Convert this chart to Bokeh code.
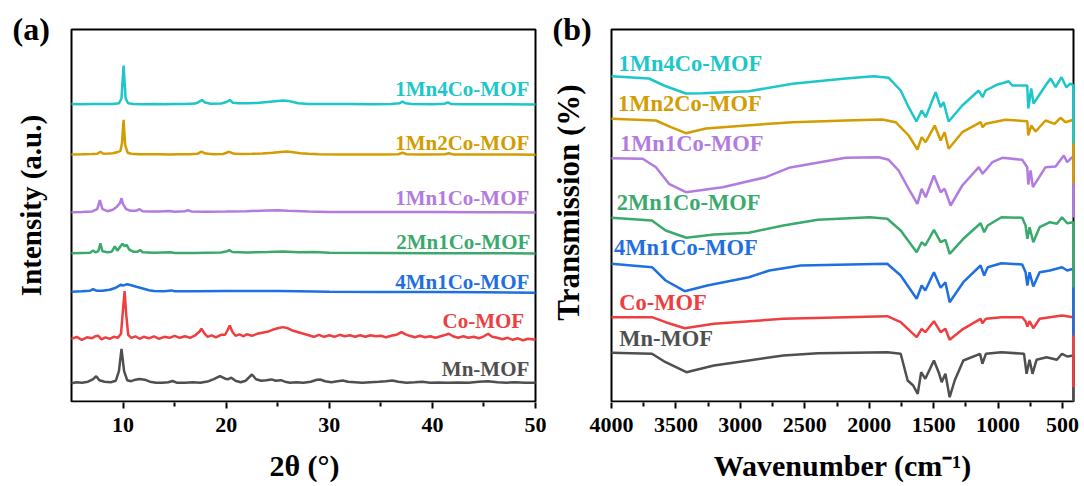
import math
from bokeh.plotting import figure
from bokeh.layouts import row
from bokeh.models import Range1d, FixedTicker, Label
from bokeh.embed import file_html
from bokeh.resources import INLINE

FONT = "Liberation Serif"

# ---------------- data: XRD (panel a) ----------------
xrd_names = ["1Mn4Co-MOF", "1Mn2Co-MOF", "1Mn1Co-MOF", "2Mn1Co-MOF", "4Mn1Co-MOF", "Co-MOF", "Mn-MOF"]
colors = ["#1CC6C9", "#D39C00", "#B27BDF", "#3AAA6C", "#1F6FE0", "#EE3E40", "#4F4F4F"]
xrd_offsets = [297, 246.7, 189.3, 148.3, 109.3, 62.7, 18.3]

xrd_x_1Mn4Co = [5, 6, 7, 8, 9, 9.6, 9.85, 10.05, 10.25, 10.5, 11, 12, 13, 14, 15, 16, 17, 17.35, 17.65, 17.95, 18.5, 19.5, 20.05, 20.35, 20.65, 21.2, 22, 23, 24, 25, 25.5, 26, 26.5, 27, 28, 30, 32, 34, 36, 36.8, 37.1, 37.4, 38, 40, 41.2, 41.5, 41.8, 43, 45, 47, 50]
xrd_y_1Mn4Co = [0.5, 0.3, 0.6, 0.4, 0.6, 1.2, 6, 39, 6, 1.2, 0.6, 0.3, 0.5, 0.3, 0.5, 0.6, 0.9, 2.5, 4.5, 2, 0.8, 1, 2.5, 4.5, 1.8, 1.2, 1.2, 1.5, 2.5, 3.5, 4, 3.6, 2.5, 1.2, 0.6, 0.4, 0.4, 0.2, 0.4, 1.2, 3, 1.2, 0.4, 0.3, 0.8, 2.2, 0.6, 0.3, 0.3, 0.2, 0]

xrd_x_1Mn2Co = [5, 6, 7, 7.5, 7.8, 8.1, 8.6, 9.0, 9.4, 9.75, 9.9, 10.05, 10.2, 10.45, 10.8, 11.5, 12.5, 13.5, 14.5, 15.5, 16.5, 17.2, 17.6, 18.0, 18.8, 19.7, 20.3, 20.8, 21.5, 22.5, 23.5, 24.5, 25.3, 25.9, 26.5, 27.2, 28, 29, 31, 33, 35, 36.7, 37.1, 37.5, 39, 41.2, 41.6, 42, 44, 46, 48, 50]
xrd_y_1Mn2Co = [0.3, 0.5, 0.8, 1, 3, 1, 1.2, 1.5, 2.5, 4, 12, 35, 10, 2, 1, 0.6, 0.5, 0.5, 0.3, 0.5, 0.6, 1, 3.2, 1.2, 0.6, 0.8, 3, 1, 0.8, 1, 1.4, 2, 2.8, 3.2, 2.6, 1.6, 1, 0.5, 0.3, 0.3, 0.2, 0.6, 2, 0.6, 0.3, 0.5, 1.6, 0.4, 0.3, 0.2, 0.2, 0]

xrd_x_1Mn1Co = [5, 6, 7, 7.5, 7.75, 8.0, 8.5, 9, 9.4, 9.7, 9.85, 10.0, 10.3, 10.7, 11.3, 11.6, 11.9, 12.5, 13.5, 14.5, 15, 16, 16.3, 16.6, 18, 20, 22, 24, 25, 26, 28, 30, 35, 40, 45, 50]
xrd_y_1Mn1Co = [0, 0.3, 0.8, 3, 12, 3, 1, 2.5, 5.5, 9, 14, 8, 3, 1.5, 1.5, 3, 1, 0.8, 0.6, 1.2, 0.5, 1, 2, 0.8, 0.5, 0.6, 1, 1.8, 2, 1.5, 0.6, 0.3, 0.2, 0.2, 0, -0.3]

xrd_x_2Mn1Co = [5, 6, 6.8, 7.1, 7.35, 7.6, 7.8, 8.0, 8.5, 8.9, 9.2, 9.45, 9.75, 9.95, 10.15, 10.35, 10.6, 11, 11.4, 11.65, 11.9, 13, 14.6, 15, 17, 18, 19.5, 20.1, 20.3, 20.6, 22, 24, 25.5, 27, 28.5, 30, 35, 40, 45, 50]
xrd_y_2Mn1Co = [0, 0.3, 0.5, 2.7, 0.8, 2, 10, 2, 1, 1.5, 6.7, 2.5, 7, 9.3, 7, 8.3, 3.5, 1.5, 1.5, 3.3, 1, 0.5, 1, 0.3, 0.3, 0.5, 0.8, 2, 3, 1.2, 0.8, 1.2, 1.6, 1, 1.2, 0.4, 0.3, 0, 0, -0.3]

xrd_x_4Mn1Co = [5, 6, 6.8, 7.1, 7.4, 8, 8.7, 9.3, 9.8, 10.0, 10.4, 10.8, 11.3, 12, 12.5, 13, 14, 14.7, 15, 17, 20, 22, 25, 27, 30, 35, 40, 45, 50]
xrd_y_4Mn1Co = [0.5, 1, 1.5, 3, 1.5, 1.5, 2.5, 4.5, 7.5, 6.5, 8, 7, 5.5, 3.5, 2, 1.2, 1, 1.8, 1, 1, 1.3, 1.3, 1.3, 1, 0.5, 0.3, 0.3, 0, -0.5]

xrd_x_Co = [5, 5.5, 6, 6.5, 7, 7.3, 7.6, 7.9, 8.3, 8.7, 9.1, 9.5, 9.8, 10.0, 10.15, 10.3, 10.5, 10.8, 11.2, 11.6, 12, 12.5, 13, 13.5, 14, 14.5, 15, 15.5, 16, 16.5, 17, 17.4, 17.6, 17.85, 18.2, 18.6, 19, 19.5, 19.9, 20.15, 20.35, 20.6, 20.9, 21.3, 21.7, 22, 22.5, 23, 23.5, 24, 24.5, 25, 25.5, 26, 26.5, 27, 27.5, 28, 28.5, 29, 29.5, 30, 30.5, 31, 31.5, 32, 32.5, 33, 33.5, 34, 34.5, 35, 35.5, 36, 36.5, 37, 37.4, 37.8, 38.3, 38.8, 39.3, 39.8, 40.3, 40.8, 41.3, 41.6, 42, 42.5, 43, 43.5, 44, 44.5, 45, 45.4, 45.8, 46.3, 46.8, 47.3, 47.8, 48.3, 48.8, 49.3, 50]
xrd_y_Co = [0, 2, -1, 1.5, 0.5, 2.5, 3, -0.5, 1.5, 0, 2, 1, 5, 30, 47.6, 25, 4, 1, 2.5, 0, 2, 0.5, 2.5, 0, 2, 1, 3, 1, 2.5, 1, 3.5, 7, 10, 6, 2, 3.5, 1.5, 4, 4, 9, 13.3, 7, 3, 4.5, 2.5, 4.5, 3, 5, 6, 7, 9, 10.5, 11.7, 10.5, 8, 6.5, 5, 3.5, 2, 4, 2, 3.5, 2, 4, 2.5, 3.5, 2, 3.5, 2, 3.5, 2.5, 3, 1.5, 3, 4, 6.7, 4.5, 3, 1.5, 3, 1.5, 2.5, 1, 2.5, 4, 5, 2.5, 1, 2.5, 1, 2, 0.5, 2.5, 5, 2, 1, -0.5, 1, -1, 0.5, -1.5, 0, -1]

xrd_x_Mn = [5, 5.5, 6, 6.6, 7.1, 7.4, 7.7, 8.2, 8.8, 9.3, 9.6, 9.85, 10.1, 10.4, 10.8, 11.2, 11.6, 12.1, 12.6, 13.2, 13.8, 14.4, 14.8, 15.2, 16, 16.8, 17.5, 18.3, 18.8, 19.4, 19.9, 20.2, 20.5, 20.9, 21.4, 21.9, 22.5, 22.9, 23.4, 23.9, 24.4, 24.8, 25.3, 25.7, 26.2, 26.8, 27.5, 28.2, 28.8, 29.1, 29.6, 30.2, 30.8, 31.3, 31.8, 32.5, 33.2, 34, 34.8, 35.5, 36.1, 36.7, 37.5, 38.3, 39, 39.8, 40.6, 41.5, 42.5, 43.5, 44.5, 45.4, 46.3, 47.2, 48, 49, 50]
xrd_y_Mn = [0, 1, 0.5, 1.5, 4, 7, 3, 1.5, 1, 2.5, 12, 34.4, 12, 3, 2, 3.5, 4.3, 3.5, 1.5, 0.5, 0.5, 1, 2.2, 0.5, 0.5, 1, 0.5, 2, 4, 7, 4.5, 4, 5.5, 2.5, 1, 2.5, 8.7, 4, 2.5, 3, 3.8, 2.5, 3, 1.5, 0.5, 1, 0.5, 1.5, 3.5, 3.7, 2, 1, 2, 2.7, 1.5, 1, 0.5, 1, 1.5, 2, 2.7, 1.5, 0.5, 1, 1.5, 0.5, 0.8, 0.5, 0.8, 0.5, 1.5, 2, 1, 0.5, 1, 0.5, 0.5]

xrd_x = [xrd_x_1Mn4Co, xrd_x_1Mn2Co, xrd_x_1Mn1Co, xrd_x_2Mn1Co, xrd_x_4Mn1Co, xrd_x_Co, xrd_x_Mn]
xrd_y = [xrd_y_1Mn4Co, xrd_y_1Mn2Co, xrd_y_1Mn1Co, xrd_y_2Mn1Co, xrd_y_4Mn1Co, xrd_y_Co, xrd_y_Mn]
xrd_label_x = [49.4, 49.4, 49.4, 49.5, 49.4, 48.9, 49.4]
xrd_label_y = [313, 259, 204, 159.3, 119.3, 80.3, 32.7]
xrd_ticks = [10, 20, 30, 40, 50]
xrd_minor = [15, 25, 35, 45]
xrd_xlim = (5, 50)

# ---------------- data: FTIR (panel b) ----------------
ir_x_1Mn4Co = [4000, 3709, 3593, 3423, 3293, 2934, 2595, 2183, 1965, 1849, 1756, 1694, 1634, 1593, 1562, 1485, 1446, 1423, 1384, 1278, 1150, 1120, 1097, 1045, 1006, 967, 918, 890, 774, 766, 743, 725, 632, 593, 554, 508, 471, 438, 416, 416]
ir_y_1Mn4Co = [325.3, 323, 316, 308, 308.3, 310.3, 317.7, 323, 325.3, 323.7, 311, 294.3, 280, 291, 284.3, 309.3, 294.3, 299.3, 280, 296, 311, 304.3, 311, 314.3, 317, 318.3, 320.3, 316, 316, 293, 313, 298, 316, 323, 314.3, 324.3, 314.3, 318, 316, 258]

ir_x_1Mn2Co = [4000, 3655, 3539, 3423, 3267, 2957, 2595, 2183, 1900, 1795, 1694, 1626, 1593, 1562, 1492, 1446, 1415, 1384, 1278, 1135, 1120, 1097, 942, 774, 766, 743, 709, 632, 562, 516, 477, 416, 416]
ir_y_1Mn2Co = [282.7, 281, 274.3, 268.3, 273, 276, 279.3, 281, 282, 279.3, 266, 252, 264.3, 259.3, 276, 261, 269.3, 252.7, 269.3, 279.3, 274.3, 277.7, 281.7, 280.3, 266, 276, 270, 281, 277.7, 283.7, 279.3, 281.7, 218]

ir_x_1Mn1Co = [4000, 3758, 3655, 3554, 3423, 3138, 2802, 2624, 2183, 1927, 1849, 1772, 1694, 1626, 1593, 1562, 1498, 1446, 1415, 1369, 1278, 1150, 1120, 1045, 967, 813, 774, 766, 748, 730, 632, 554, 490, 464, 425, 416, 416]
ir_y_1Mn1Co = [243.3, 242.7, 234.3, 217.7, 209.3, 214.3, 224.3, 233.7, 243.7, 244.3, 241.7, 231, 212.7, 197.7, 212.7, 204.3, 226, 209.3, 212.7, 196, 216, 234.3, 227.7, 239.3, 243.7, 241.7, 234.3, 217, 231, 214.3, 234.3, 235, 246, 239.3, 244.3, 244, 184]

ir_x_2Mn1Co = [4000, 3686, 3580, 3419, 3205, 2934, 2667, 2399, 1996, 1860, 1756, 1632, 1593, 1565, 1498, 1446, 1409, 1376, 1270, 1136, 1108, 1081, 974, 813, 787, 773, 756, 727, 678, 598, 544, 504, 464, 416, 416]
ir_y_2Mn1Co = [183.7, 181, 171, 163.7, 167, 168.7, 176, 181.7, 184.3, 182.7, 171, 149.3, 159.3, 156, 171.7, 159.3, 161.7, 147.7, 162.7, 178.3, 169.3, 176, 184.3, 183.7, 176, 162.7, 174.3, 159.3, 174.3, 179.3, 177.7, 184.3, 178.3, 179.3, 114]

ir_x_4Mn1Co = [4000, 3686, 3580, 3432, 3257, 2934, 2774, 2532, 1860, 1756, 1632, 1593, 1565, 1498, 1446, 1409, 1376, 1270, 1136, 1108, 1081, 974, 813, 787, 773, 756, 727, 678, 598, 504, 464, 416, 416]
ir_y_4Mn1Co = [137.7, 134.3, 121, 110.3, 116, 124.3, 131, 136, 137.7, 126, 102.7, 116, 111, 129.3, 113.7, 119.3, 99.3, 119.3, 136, 126, 134.3, 138.3, 137, 129.3, 116, 129.3, 115, 129.3, 131, 134.3, 131, 132.7, 66]

ir_x_Co = [4000, 3686, 3580, 3432, 3205, 2667, 1860, 1756, 1632, 1593, 1565, 1498, 1446, 1409, 1376, 1270, 1136, 1122, 1095, 974, 813, 787, 773, 756, 727, 678, 504, 416, 416]
ir_y_Co = [84.3, 84.3, 79.3, 73.3, 77.7, 82.7, 85.3, 79.3, 64.3, 72.7, 69.3, 80.3, 69.3, 72.7, 61.7, 72.7, 82.7, 78.3, 82.7, 84.3, 84.3, 80.3, 75, 80.3, 73.3, 82.7, 86, 84.3, 14]

ir_x_Mn = [4000, 3686, 3580, 3419, 3205, 2934, 2667, 2399, 1860, 1756, 1702, 1659, 1624, 1597, 1565, 1498, 1457, 1438, 1409, 1376, 1337, 1270, 1140, 1122, 1095, 974, 799, 779, 756, 733, 702, 624, 544, 504, 464, 416, 416]
ir_y_Mn = [48.7, 47.7, 39.3, 29.3, 36, 41, 46, 48.3, 49.3, 47.7, 21, 16, 7.7, 29.3, 22.7, 41, 27.7, 19.3, 27.7, 4.3, 21, 41, 47.7, 37.7, 47.7, 49.3, 47.7, 27.7, 41.7, 27.7, 41.7, 44.3, 41.7, 47.7, 45, 46, 0]

ir_x = [ir_x_1Mn4Co, ir_x_1Mn2Co, ir_x_1Mn1Co, ir_x_2Mn1Co, ir_x_4Mn1Co, ir_x_Co, ir_x_Mn]
ir_y = [ir_y_1Mn4Co, ir_y_1Mn2Co, ir_y_1Mn1Co, ir_y_2Mn1Co, ir_y_4Mn1Co, ir_y_Co, ir_y_Mn]
ir_label_x = [3945, 3950, 3935, 3960, 3980, 3940, 3940]
ir_label_y = [337.7, 297.7, 257.7, 199.3, 154.3, 99.3, 62.7]
ir_ticks = [4000, 3500, 3000, 2500, 2000, 1500, 1000, 500]
ir_minor = [3750, 3250, 2750, 2250, 1750, 1250, 750]
ir_xlim = (4000, 415)

ylim = (0, 372)
NB = "\u00a0"

# ---------------- layout geometry (pixels) ----------------
FIG_H_FRAME = 402          # frame spans canvas top .. 1px below the plot box
BOX_LEFT = [71, 611]       # page x of the plot box left edge
BOX_RIGHT = [535, 1073]
FIG_LEFT = [0, 548]
FIG_W = [548, 536]


def make_fig(k, xlim, xlabel, ylabel, ylab_size, ylab_cx, ylab_cy, panel, ticks, minor, pad):
    # data range so that xlim maps to the plot box; frame covers the whole canvas
    x0, x1 = xlim
    ppu = (BOX_RIGHT[k] - BOX_LEFT[k]) / (x1 - x0)
    xs = x0 + (FIG_LEFT[k] - BOX_LEFT[k]) / ppu
    xe = x0 + (FIG_LEFT[k] + FIG_W[k] - BOX_LEFT[k]) / ppu
    p = figure(frame_width=FIG_W[k], frame_height=FIG_H_FRAME,
               x_range=Range1d(xs, xe), y_range=Range1d(ylim[0] - 1, ylim[0] - 1 + FIG_H_FRAME),
               output_backend="svg", toolbar_location=None,
               min_border_left=0, min_border_right=0, min_border_top=0, min_border_bottom=76)
    p.outline_line_color = None
    p.xgrid.grid_line_color = None
    p.ygrid.grid_line_color = None
    p.yaxis.visible = False
    ax = p.xaxis[0]
    ax.ticker = FixedTicker(ticks=ticks, minor_ticks=minor)
    ax.axis_line_color = None
    ax.major_tick_line_width = 2
    ax.minor_tick_line_width = 2
    ax.major_tick_in = 0
    ax.major_tick_out = 6
    ax.minor_tick_in = 0
    ax.minor_tick_out = 4
    ax.major_label_standoff = 9
    ax.major_label_text_font = FONT
    ax.major_label_text_font_style = "bold"
    ax.major_label_text_font_size = "22px"
    ax.major_label_text_color = "black"
    ax.axis_label = NB * pad + xlabel
    ax.axis_label_text_font = FONT
    ax.axis_label_text_font_style = "bold"
    ax.axis_label_text_font_size = "30px"
    ax.axis_label_text_color = "black"
    ax.axis_label_standoff = 14
    # plot box
    p.quad(left=[x0], right=[x1], bottom=[ylim[0]], top=[ylim[1]], fill_color=None,
           line_color="black", line_width=2)
    # y axis title
    ycx = x0 + (ylab_cx - BOX_LEFT[k]) / ppu
    p.add_layout(Label(x=ycx, y=401 - ylab_cy, text=ylabel, angle=math.pi / 2, text_font=FONT,
                       text_font_style="bold", text_font_size=ylab_size, text_color="black",
                       text_align="center", text_baseline="middle"))
    # panel letter
    pcx = x0 + (FIG_LEFT[k] + (12 if k == 0 else 4) - BOX_LEFT[k]) / ppu
    p.add_layout(Label(x=pcx, y=401 - 28, text=panel, text_font=FONT,
                       text_font_style="bold", text_font_size="32px", text_color="black",
                       text_align="left", text_baseline="middle"))
    return p


# ---------------- panel (a) ----------------
p1 = make_fig(0, xrd_xlim, "2θ (°)", "Intensity (a.u.)", "29px", 30, 205, "(a)", xrd_ticks, xrd_minor, 8)
for i in range(len(xrd_names)):
    ys = [v + xrd_offsets[i] for v in xrd_y[i]]
    p1.line(xrd_x[i], ys, line_color=colors[i], line_width=2.5)
    p1.add_layout(Label(x=xrd_label_x[i], y=xrd_label_y[i], text=xrd_names[i], text_font=FONT,
                        text_font_style="bold", text_font_size="21px", text_color=colors[i],
                        text_align="right", text_baseline="middle"))

# ---------------- panel (b) ----------------
p2 = make_fig(1, ir_xlim, "Wavenumber (cm⁻¹)", "Transmission (%)", "31px", 568, 202, "(b)", ir_ticks, ir_minor, 7)
for i in reversed(range(len(xrd_names))):
    p2.line(ir_x[i], ir_y[i], line_color=colors[i], line_width=2.5)
for i in range(len(xrd_names)):
    p2.add_layout(Label(x=ir_label_x[i], y=ir_label_y[i], text=xrd_names[i], text_font=FONT,
                        text_font_style="bold", text_font_size="22.5px", text_color=colors[i],
                        text_align="left", text_baseline="middle"))

layout = row(p1, p2, spacing=0)
open("out.html", "w").write(file_html(layout, INLINE))
